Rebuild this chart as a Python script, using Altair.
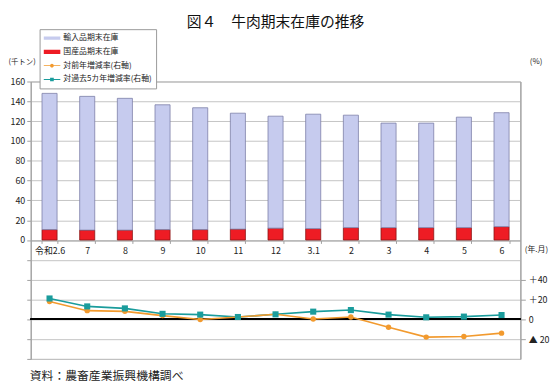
import altair as alt
import pandas as pd

# ---- data ----
cats = ["令和2.6", "7", "8", "9", "10", "11", "12", "3.1", "2", "3", "4", "5", "6"]
imported = [137.5, 135, 133, 126, 123, 117, 113, 115.5, 113.5, 105.5, 105.5, 111.5, 115]
domestic = [10.5, 10, 10, 10.5, 10.5, 11, 12, 11.5, 12.5, 12.5, 12.5, 12.5, 13.5]
yoy = [18, 8.7, 8, 3.7, -0.3, 2.3, 5, 0.3, 2.3, -8, -18, -17.3, -14]
vs5y = [21, 13, 11, 5.5, 4.7, 2.3, 5, 7.7, 9.3, 4.7, 2, 2.7, 4.3]

S_IMP = "輸入品期末在庫"
S_DOM = "国産品期末在庫"
S_YOY = "対前年増減率(右軸)"
S_5Y = "対過去5カ年増減率(右軸)"
series_names = [S_IMP, S_DOM, S_YOY, S_5Y]
C_IMP, C_DOM, C_YOY, C_5Y = "#c6cbee", "#ee1c24", "#f29a2e", "#1a9c9c"
series_colors = [C_IMP, C_DOM, C_YOY, C_5Y]

TITLE = "図４　牛肉期末在庫の推移"
SOURCE = "資料：農畜産業振興機構調べ"
FONT = "Noto Sans CJK JP"

bar_rows = []
for c, i, d in zip(cats, imported, domestic):
    bar_rows.append({"cat": c, "series": S_DOM, "value": d, "ord": 0})
    bar_rows.append({"cat": c, "series": S_IMP, "value": i, "ord": 1})
bar_df = pd.DataFrame(bar_rows)

line_rows = []
for c, a, b in zip(cats, yoy, vs5y):
    line_rows.append({"cat": c, "series": S_YOY, "value": a})
    line_rows.append({"cat": c, "series": S_5Y, "value": b})
line_df = pd.DataFrame(line_rows)

AXC = "#a0a0a0"

x_axis = alt.Axis(
    title="(年.月)", offset=-120, orient="bottom", grid=False,
    domainColor=AXC, tickColor=AXC, tickSize=3, tickBand="extent",
    labelAngle=0, labelFontSize=9, labelPadding=3, labelColor="#222",
    titleX=500, titleY=9, titleAlign="left", titleBaseline="middle",
    titleFontSize=8, titleFontWeight="normal", titleColor="#222",
)
x_scale = alt.Scale(paddingInner=0.6, paddingOuter=0.3)
X = alt.X("cat:N", sort=cats, scale=x_scale, axis=x_axis)

left_axis = alt.Axis(
    values=list(range(-120, 161, 20)),
    labelExpr="datum.value >= 0 ? datum.label : ''",
    title="(千トン)", titleAngle=0, titleX=-23, titleY=-20, titleAlign="left",
    titleBaseline="middle", titleFontSize=7.5, titleFontWeight="normal", titleColor="#222",
    grid=True, gridColor="#c4c4c4", tickSize=4, labelPadding=2,
    domainColor=AXC, tickColor=AXC, labelFontSize=9, labelColor="#222",
)

right_axis = alt.Axis(
    orient="right", values=[-20, 0, 20, 40],
    labelExpr="datum.value > 0 ? '＋' + datum.value : (datum.value < 0 ? '▲ ' + (-datum.value) : '0')",
    grid=False, title="(%)", titleAngle=0, titleX=9, titleY=-20, titleAlign="left",
    titleBaseline="middle", titleFontSize=8, titleFontWeight="normal", titleColor="#222",
    tickSize=5, labelPadding=3, domain=True, domainColor=AXC, tickColor=AXC,
    labelFontSize=9, labelColor="#222",
)

bars = alt.Chart(bar_df).mark_bar(strokeWidth=0.8).encode(
    x=X,
    y=alt.Y("value:Q", stack="zero",
            scale=alt.Scale(domain=[-120, 160], nice=False, zero=False), axis=left_axis),
    fill=alt.condition(alt.datum.series == S_IMP, alt.value(C_IMP), alt.value(C_DOM)),
    stroke=alt.condition(alt.datum.series == S_IMP, alt.value("#7c7fa8"), alt.value("#8a1414")),
    order=alt.Order("ord:Q"),
)

def yr(axis=None):
    return alt.Y("value:Q", scale=alt.Scale(domain=[-40, 240], nice=False, zero=False), axis=axis)

zero_rule = alt.Chart(line_df).transform_filter(alt.datum.series == S_YOY).transform_calculate(
    zero="0"
).mark_rule(color="black", strokeWidth=1.5).encode(
    y=alt.Y("zero:Q", scale=alt.Scale(domain=[-40, 240], nice=False, zero=False), axis=None)
)

line_5y = alt.Chart(line_df).transform_filter(alt.datum.series == S_5Y).mark_line(
    strokeWidth=1.6, color=C_5Y
).encode(x=X, y=yr(right_axis))

line_yoy = alt.Chart(line_df).transform_filter(alt.datum.series == S_YOY).mark_line(
    strokeWidth=1.6, color=C_YOY
).encode(x=X, y=yr())

pts_yoy = alt.Chart(line_df).transform_filter(alt.datum.series == S_YOY).mark_point(
    shape="circle", filled=True, size=30, opacity=1, color=C_YOY
).encode(x=X, y=yr())

pts_5y = alt.Chart(line_df).transform_filter(alt.datum.series == S_5Y).mark_point(
    shape="square", filled=True, size=38, opacity=1, color=C_5Y
).encode(x=X, y=yr())

legend_paths = [
    "M-1,-0.2H1V0.2H-1Z",
    "M-1,-0.24H1V0.24H-1Z",
    "M-1,-0.05H1V0.05H-1Z M0.22,0A0.22,0.22 0 1 1 -0.22,0A0.22,0.22 0 1 1 0.22,0Z",
    "M-1,-0.05H1V0.05H-1Z M-0.22,-0.22H0.22V0.22H-0.22Z",
]
leg = alt.Legend(orient="none", legendX=9, legendY=-53, title=None)
legend_layer = alt.Chart(line_df).transform_filter("false").mark_point(filled=True, opacity=1).encode(
    color=alt.Color("series:N", scale=alt.Scale(domain=series_names, range=series_colors), legend=leg),
    shape=alt.Shape("series:N", scale=alt.Scale(domain=series_names, range=legend_paths), legend=leg),
)

title_layer = alt.Chart(pd.DataFrame({"t": [TITLE]})).mark_text(
    font=FONT, fontSize=15, align="center", baseline="middle", color="#111"
).encode(text="t:N", x=alt.value(248), y=alt.value(-60))

source_layer = alt.Chart(pd.DataFrame({"t": [SOURCE]})).mark_text(
    font=FONT, fontSize=12, align="left", baseline="middle", color="#222"
).encode(text="t:N", x=alt.value(-1), y=alt.value(298))

chart = alt.layer(
    bars, zero_rule, line_5y, line_yoy, pts_yoy, pts_5y, legend_layer, title_layer, source_layer
).resolve_scale(y="independent").properties(
    width=496, height=281,
    autosize=alt.AutoSizeParams(type="none"),
    padding={"left": 23, "top": 72, "right": 30, "bottom": 26},
).configure_view(stroke=AXC, strokeWidth=1).configure_axis(
    labelFont=FONT, titleFont=FONT
).configure_legend(
    labelFont=FONT, labelFontSize=8, labelColor="#222",
    symbolSize=289, symbolStrokeWidth=0, labelOffset=3,
    clipHeight=10, rowPadding=4, padding=4,
    strokeColor="#999999", fillColor="white",
)

chart.save("out.html", embed_options={"renderer": "svg", "actions": False})
